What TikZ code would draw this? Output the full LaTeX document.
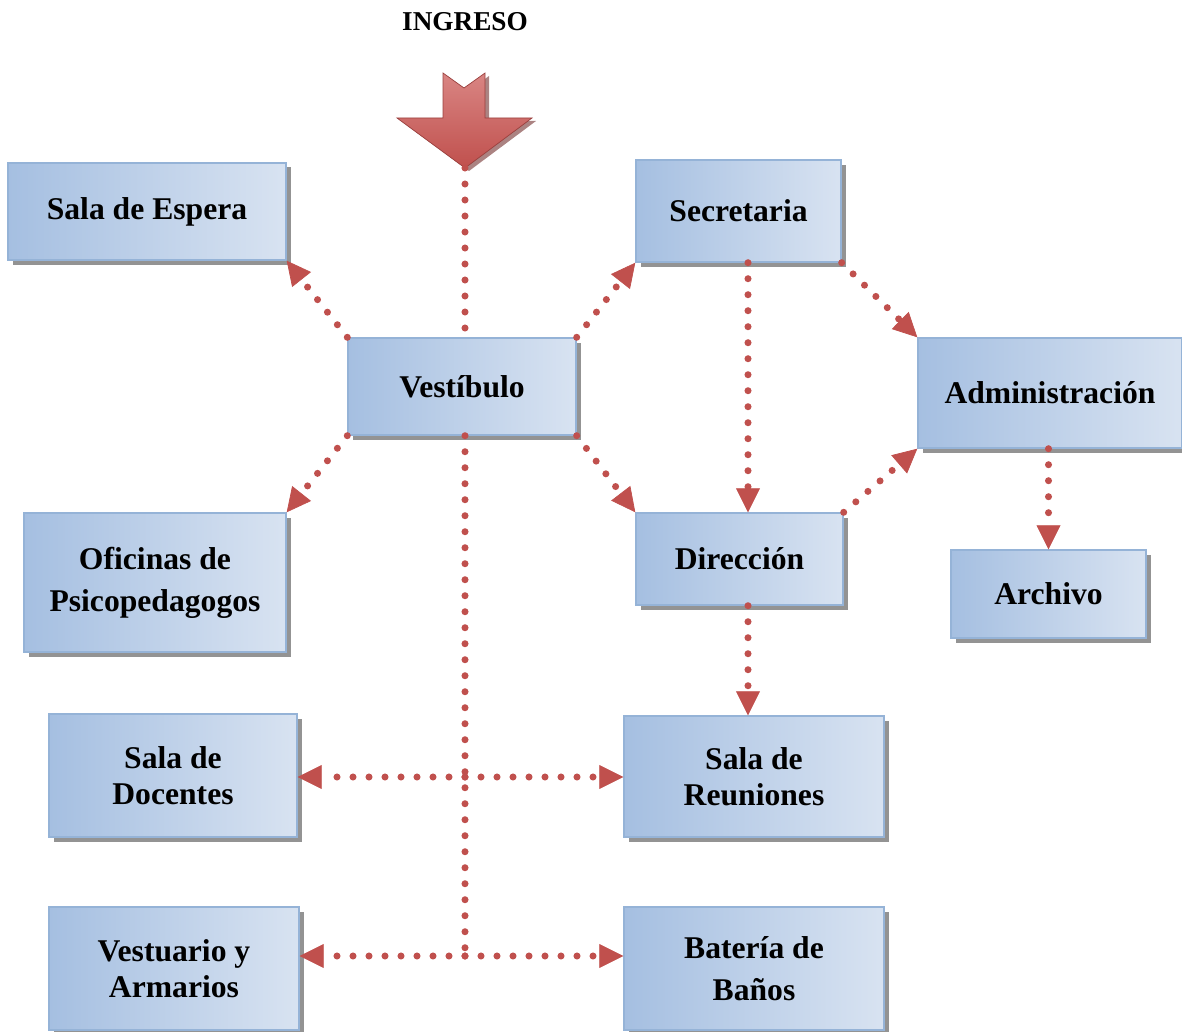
\documentclass[tikz,border=0pt]{standalone}
\usepackage{fontspec}
\setmainfont{Liberation Serif}
\usetikzlibrary{arrows.meta,shadows}

\definecolor{roomedge}{HTML}{95B3D7}
\definecolor{roomdark}{HTML}{A5BFE1}
\definecolor{roomlight}{HTML}{E1E9F4}
\definecolor{linkred}{HTML}{C0504D}
\definecolor{arrowtop}{HTML}{D98583}

\begin{document}
\begin{tikzpicture}[
  font=\bfseries\fontsize{18}{20.5}\selectfont,
  room/.style={draw=roomedge, line width=0.8pt, left color=roomdark, middle color=roomlight,
               right color=roomlight!85!roomdark, align=center, inner sep=2pt,
               drop shadow={shadow xshift=0.09cm, shadow yshift=-0.09cm, fill=black!50, opacity=0.85}},
  dots/.style={draw=linkred, line width=4pt, line cap=round, dash pattern=on 0pt off 0.32cm},
  link/.style={dots, -{Triangle[length=0.48cm, width=0.48cm, line width=0.4pt]}}
]
\useasboundingbox (0,0) rectangle (23.64,-20.64);

% entrance
\node (ingreso) at (9.30,-0.44) {\fontsize{15.5}{18}\selectfont INGRESO};
\fill[linkred!60!black, opacity=0.6] (8.94,-1.52) -- (9.36,-1.82) -- (9.78,-1.52) -- (9.78,-2.42)
  -- (10.72,-2.42) -- (9.38,-3.42) -- (8.02,-2.42) -- (8.94,-2.42) -- cycle;
\shade[top color=arrowtop, bottom color=linkred, draw=linkred!80!black, line width=0.4pt]
  (8.86,-1.46) -- (9.28,-1.76) -- (9.70,-1.46) -- (9.70,-2.36)
  -- (10.64,-2.36) -- (9.30,-3.36) -- (7.94,-2.36) -- (8.86,-2.36) -- cycle;
\coordinate (ingtip) at (9.30,-3.36);

% rooms
\node[room, minimum width=5.56cm, minimum height=1.94cm] (espera) at (2.94,-4.23) {Sala de Espera};
\node[room, minimum width=4.56cm, minimum height=1.94cm] (vest) at (9.24,-7.73) {Vestíbulo};
\node[room, minimum width=4.10cm, minimum height=2.04cm] (secre) at (14.77,-4.22) {Secretaria};
\node[room, minimum width=5.28cm, minimum height=2.20cm] (admin) at (21.00,-7.86) {Administración};
\node[room, minimum width=5.24cm, minimum height=2.78cm] (ofic) at (3.10,-11.65) {Oficinas de\\[3.5pt]Psicopedagogos};
\node[room, minimum width=4.14cm, minimum height=1.84cm] (direc) at (14.79,-11.18) {Dirección};
\node[room, minimum width=3.90cm, minimum height=1.76cm] (archivo) at (20.97,-11.88) {Archivo};
\node[room, minimum width=4.96cm, minimum height=2.46cm] (docentes) at (3.46,-15.51) {Sala de\\Docentes};
\node[room, minimum width=5.20cm, minimum height=2.42cm] (reuniones) at (15.08,-15.53) {Sala de\\Reuniones};
\node[room, minimum width=5.00cm, minimum height=2.46cm] (vestuario) at (3.48,-19.37) {Vestuario y\\Armarios};
\node[room, minimum width=5.20cm, minimum height=2.46cm] (banos) at (15.08,-19.37) {Batería de\\[3.5pt]Baños};

% junctions on the corridor
\coordinate (jdoc) at (9.30,-15.54);
\coordinate (jbath) at (9.30,-19.12);
\coordinate (axis) at (14.96,0);

% connectors
\draw[dots] (ingtip) -- (ingtip |- vest.north);
\draw[dots] (ingtip |- vest.south) -- (jbath);
\draw[link] (vest.north west) -- (espera.south east);
\draw[link] (vest.north east) -- (secre.south west);
\draw[link] (vest.south west) -- (ofic.north east);
\draw[link] (vest.south east) -- (direc.north west);
\draw[link] (axis |- secre.south) -- (axis |- direc.north);
\draw[link] (secre.south east) -- (admin.north west);
\draw[link] (direc.north east) -- (admin.south west);
\draw[link] (admin.south -| archivo.north) -- (archivo.north);
\draw[link] (axis |- direc.south) -- (axis |- reuniones.north);
\draw[link] (jdoc) -- (jdoc -| docentes.east);
\draw[link] (jdoc) -- (jdoc -| reuniones.west);
\draw[link] (jbath) -- (jbath -| vestuario.east);
\draw[link] (jbath) -- (jbath -| banos.west);
\end{tikzpicture}
\end{document}
